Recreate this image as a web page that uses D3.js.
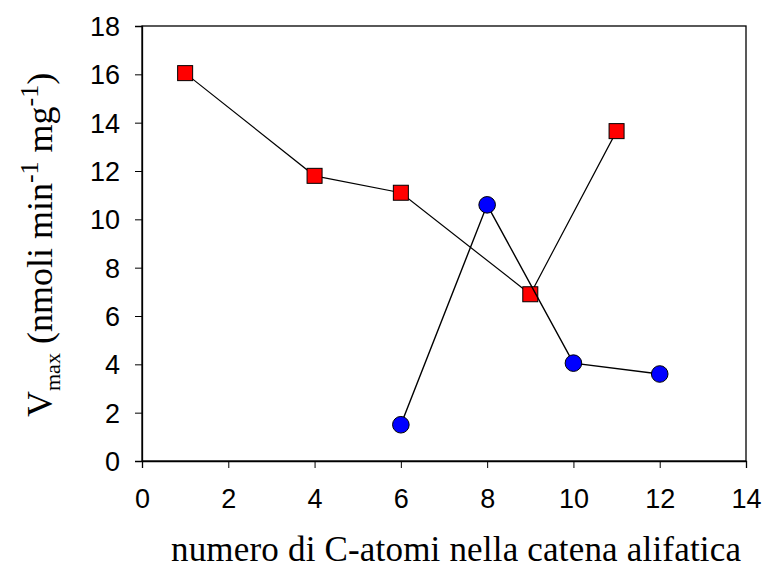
<!DOCTYPE html>
<html>
<head>
<meta charset="utf-8">
<script src="https://cdn.jsdelivr.net/npm/d3@7"></script>
<style>
  body { margin: 0; background: #fff; }
  .tick text { font-family: "Liberation Sans", Arial, sans-serif; font-size: 27px; fill: #000; }
  .title { font-family: "Liberation Serif", "Times New Roman", serif; font-size: 35px; fill: #000; }
</style>
</head>
<body>
<div id="viz"></div>
<script>
// values
var redX = [1, 4, 6, 9, 11];
var redY = [16.05, 11.8, 11.1, 6.9, 13.65];
var blueX = [6, 8, 10, 12];
var blueY = [1.5, 10.6, 4.05, 3.6];
var xTicks = [0, 2, 4, 6, 8, 10, 12, 14];
var yTicks = [0, 2, 4, 6, 8, 10, 12, 14, 16, 18];

var width = 765, height = 569;
var m = {left: 142, top: 26, right: 19, bottom: 108};

var svg = d3.select('#viz').append('svg')
  .attr('width', width)
  .attr('height', height);

var x = d3.scaleLinear().domain([0, 14]).range([m.left, width - m.right]);
var y = d3.scaleLinear().domain([0, 18]).range([height - m.bottom, m.top]);

// frame
svg.append('rect')
  .attr('x', x(0)).attr('y', y(18))
  .attr('width', x(14) - x(0)).attr('height', y(0) - y(18))
  .attr('fill', 'none').attr('stroke', '#000').attr('stroke-width', 1.3);

var xAxis = svg.append('g')
  .attr('transform', 'translate(0,' + y(0) + ')')
  .call(d3.axisBottom(x).tickValues(xTicks).tickSize(7).tickPadding(21).tickFormat(d3.format('d')));
var yAxis = svg.append('g')
  .attr('transform', 'translate(' + x(0) + ',0)')
  .call(d3.axisLeft(y).tickValues(yTicks).tickSize(7).tickPadding(15).tickFormat(d3.format('d')));

[xAxis, yAxis].forEach(function(a){
  a.select('.domain').attr('stroke-width', 1.3);
  a.selectAll('.tick line').attr('stroke-width', 1);
});
yAxis.selectAll('.tick text').attr('dy', '0.35em');

function series(xs, ys) {
  return xs.map(function(d, i){ return [d, ys[i]]; });
}
var red = series(redX, redY);
var blue = series(blueX, blueY);

var line = d3.line().x(function(d){ return x(d[0]); }).y(function(d){ return y(d[1]); });

svg.append('path').datum(red)
  .attr('d', line).attr('fill', 'none').attr('stroke', '#000').attr('stroke-width', 1.2);

svg.selectAll('.sq').data(red).enter().append('rect')
  .attr('class', 'sq')
  .attr('x', function(d){ return x(d[0]) - 7.5; })
  .attr('y', function(d){ return y(d[1]) - 7.5; })
  .attr('width', 15).attr('height', 15)
  .attr('fill', '#ff0000').attr('stroke', '#000').attr('stroke-width', 1);

svg.append('path').datum(blue)
  .attr('d', line).attr('fill', 'none').attr('stroke', '#000').attr('stroke-width', 1.4);

svg.selectAll('.dot').data(blue).enter().append('circle')
  .attr('class', 'dot')
  .attr('cx', function(d){ return x(d[0]); })
  .attr('cy', function(d){ return y(d[1]); })
  .attr('r', 8.3)
  .attr('fill', '#0000ff').attr('stroke', '#000').attr('stroke-width', 1);

// axis titles
svg.append('text').attr('class', 'title')
  .attr('x', 171).attr('y', 561)
  .attr('textLength', 570)
  .text('numero di C-atomi nella catena alifatica');

var yt = svg.append('text').attr('class', 'title')
  .attr('transform', 'translate(52,417) rotate(-90)')
  .style('font-size', '36px');
yt.append('tspan').text('V');
yt.append('tspan').attr('font-size', '22px').attr('dy', 8).text('max');
yt.append('tspan').attr('dy', -8).text(' (nmoli min');
yt.append('tspan').attr('font-size', '26px').attr('dy', -14).text('-1');
yt.append('tspan').attr('dy', 14).text(' mg');
yt.append('tspan').attr('font-size', '26px').attr('dy', -14).text('-1');
yt.append('tspan').attr('dy', 14).text(')');
</script>
</body>
</html>
